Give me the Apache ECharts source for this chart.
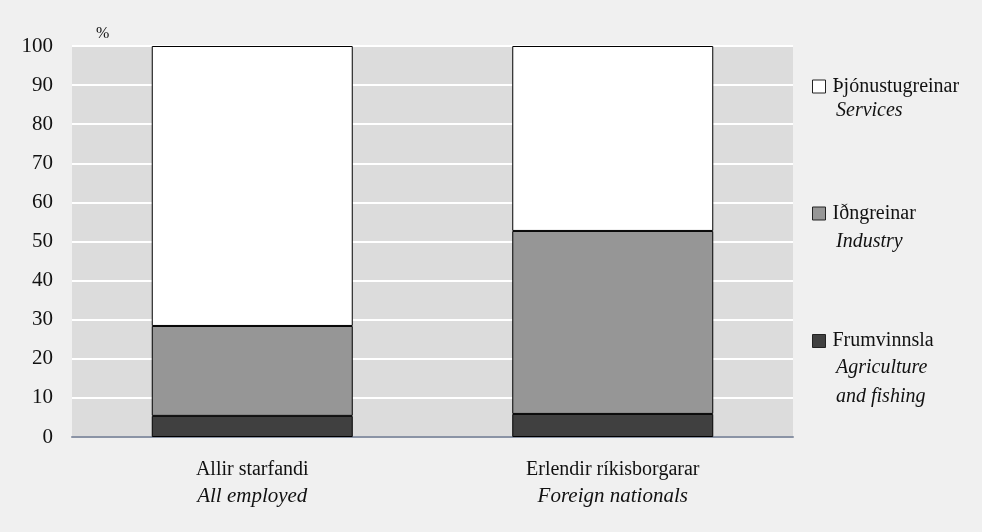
<!DOCTYPE html>
<html><head><meta charset="utf-8">
<script src="https://cdn.jsdelivr.net/npm/echarts@6/dist/echarts.min.js"></script>
<style>html,body{margin:0;padding:0;background:#f0f0f0}#c{width:982px;height:532px}</style>
</head><body><div id="c"></div>
<script>
var categories = ['Allir starfandi', 'Erlendir ríkisborgarar'];
var categoriesEn = ['All employed', 'Foreign nationals'];
var agriculture = [5.4, 5.9];
var industry = [23.0, 46.8];
var services = [71.6, 47.3];
var seriesNames = ['Frumvinnsla', 'Iðngreinar', 'Þjónustugreinar'];
var seriesNamesEn = [['Agriculture', 'and fishing'], ['Industry'], ['Services']];
var yTicks = [0, 10, 20, 30, 40, 50, 60, 70, 80, 90, 100];

var FONT = '"Liberation Serif", "Times New Roman", serif';
var colors = ['#404040', '#969696', '#ffffff'];
var values = [agriculture, industry, services];
var chart = echarts.init(document.getElementById('c'), null, {renderer: 'canvas'});

var legendTops = {'Þjónustugreinar': 71.5, 'Iðngreinar': 198.5, 'Frumvinnsla': 326};
var legends = seriesNames.map(function (n) {
  return {
    data: [{name: n, icon: 'rect'}], left: 807, top: legendTops[n], orient: 'vertical',
    itemWidth: 13, itemHeight: 13, selectedMode: false,
    itemStyle: {borderColor: '#222', borderWidth: 1},
    textStyle: {fontFamily: FONT, fontSize: 20, color: '#111', lineHeight: 20, padding: [0, 0, 0, 2]}
  };
});
var enY = {'Þjónustugreinar': 111, 'Iðngreinar': 242, 'Frumvinnsla': 368};
var graphics = [];
seriesNames.forEach(function (n, i) {
  seriesNamesEn[i].forEach(function (t, j) {
    graphics.push({type: 'text', x: 836, y: enY[n] + j * 29,
      style: {text: t, font: 'italic 20px ' + FONT, fill: '#111', verticalAlign: 'middle'}});
  });
});

chart.setOption({
  backgroundColor: '#f0f0f0',
  animation: false,
  grid: {left: 72, right: 189, top: 46, bottom: 95, show: true, backgroundColor: '#dcdcdc', borderWidth: 0},
  legend: legends,
  graphic: graphics,
  xAxis: {
    type: 'category', data: categories,
    axisLine: {lineStyle: {color: '#8a93a5', width: 2}},
    axisTick: {show: false},
    axisLabel: {
      margin: 20,
      formatter: function (v, idx) { return '{a|' + v + '}\n{b|' + categoriesEn[idx] + '}'; },
      rich: {
        a: {fontFamily: FONT, fontSize: 20, color: '#111', lineHeight: 26},
        b: {fontFamily: FONT, fontSize: 21, fontStyle: 'italic', color: '#111', lineHeight: 26}
      }
    }
  },
  yAxis: {
    type: 'value', min: 0, max: 100, interval: 10,
    name: '%', nameLocation: 'end', nameGap: 4,
    nameTextStyle: {fontFamily: FONT, fontSize: 16, color: '#111', align: 'left', padding: [0, 0, 0, 24]},
    axisLine: {show: false}, axisTick: {show: false},
    axisLabel: {fontFamily: FONT, fontSize: 21, color: '#111', margin: 19,
      formatter: function (v) { return yTicks.indexOf(v) >= 0 ? String(v) : ''; }},
    splitLine: {lineStyle: {color: '#ffffff', width: 2}}
  },
  series: seriesNames.map(function (n, i) {
    return {
      name: n, type: 'bar', stack: 'total', barWidth: 201,
      data: values[i],
      itemStyle: {color: colors[i], borderColor: '#000', borderWidth: 1}
    };
  })
});
</script></body></html>
